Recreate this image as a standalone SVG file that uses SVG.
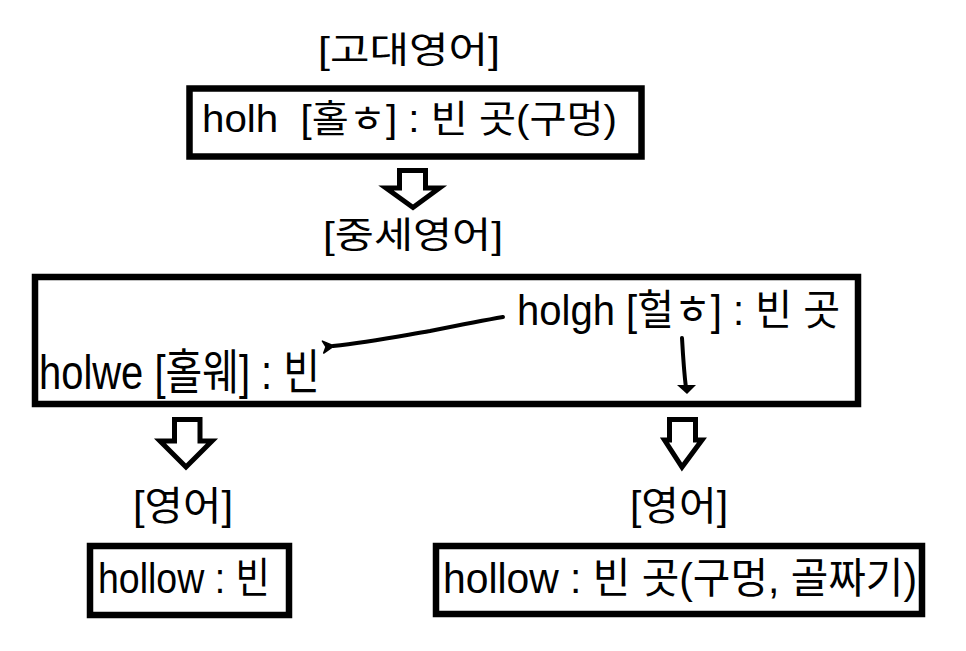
<svg xmlns="http://www.w3.org/2000/svg" width="966" height="651" viewBox="0 0 966 651">
<style>
  text { font-family: "Liberation Sans", "Noto Sans CJK KR", sans-serif; fill: #000; white-space: pre; }
  .box { fill: #fff; stroke: #000; stroke-width: 6.5; }
  .hollow { fill: #fff; stroke: #000; stroke-width: 5; stroke-linejoin: miter; }
  .hand { fill: none; stroke: #000; stroke-width: 4; stroke-linecap: round; stroke-linejoin: round; }
</style>
<defs>
  <marker id="tipL" viewBox="0 0 14 14" refX="2" refY="7" markerWidth="14" markerHeight="14" markerUnits="userSpaceOnUse" orient="auto">
    <path d="M1 7 L12 1 L9 7 L12 13 Z" fill="#000" stroke="#000" stroke-width="1.5" stroke-linejoin="round"/>
  </marker>
</defs>
<rect width="966" height="651" fill="#fff"/>

<g id="label-old">
  <text x="318" y="63" font-size="36" textLength="182" lengthAdjust="spacingAndGlyphs">[고대영어]</text>
</g>
<g id="node-holh">
  <rect class="box" x="189.5" y="88.5" width="452" height="68"/>
  <text x="202" y="132" font-size="38" textLength="415" lengthAdjust="spacingAndGlyphs">holh  [홀ㅎ] : 빈 곳(구멍)</text>
</g>
<g id="label-middle">
  <text x="323" y="248" font-size="36" textLength="180" lengthAdjust="spacingAndGlyphs">[중세영어]</text>
</g>
<g id="node-middle">
  <rect class="box" x="35" y="277" width="823" height="127" stroke-width="7"/>
  <text x="517" y="325" font-size="42" textLength="323" lengthAdjust="spacingAndGlyphs">holgh [헐ㅎ] : 빈 곳</text>
  <text x="39" y="389" font-size="48" textLength="281" lengthAdjust="spacingAndGlyphs">holwe [홀웨] : 빈</text>
</g>
<g id="label-en-left">
  <text x="133" y="520" font-size="40" textLength="100" lengthAdjust="spacingAndGlyphs">[영어]</text>
</g>
<g id="label-en-right">
  <text x="630" y="520" font-size="40" textLength="98" lengthAdjust="spacingAndGlyphs">[영어]</text>
</g>
<g id="node-hollow-left">
  <rect class="box" x="90" y="546" width="199" height="69"/>
  <text x="98" y="593" font-size="42" textLength="172" lengthAdjust="spacingAndGlyphs">hollow : 빈</text>
</g>
<g id="node-hollow-right">
  <rect class="box" x="436" y="546" width="486" height="68"/>
  <text x="443" y="593" font-size="42" textLength="474" lengthAdjust="spacingAndGlyphs">hollow : 빈 곳(구멍, 골짜기)</text>
</g>

<g id="connectors">
  <polygon class="hollow" points="399.5,170.5 425.5,170.5 425.5,188 439.5,188 413,207.5 386,188 399.5,188"/>
  <polygon class="hollow" points="174.5,419.5 200,419.5 200,441 212,441 186,467 160,441 174.5,441"/>
  <polygon class="hollow" points="669.5,419.5 695.5,419.5 695.5,440 702,440 682,467 664.5,440 669.5,440"/>
  <path class="hand" d="M503 317 C480 321 455 326 430 331 C400 336 370 342 333 346" marker-end="url(#tipL)"/>
  <path class="hand" d="M682 338 C683 356 684 372 686 388" stroke-width="3"/>
  <path d="M677 385 L696 385 L687 394 Z" fill="#000"/>
</g>
</svg>
